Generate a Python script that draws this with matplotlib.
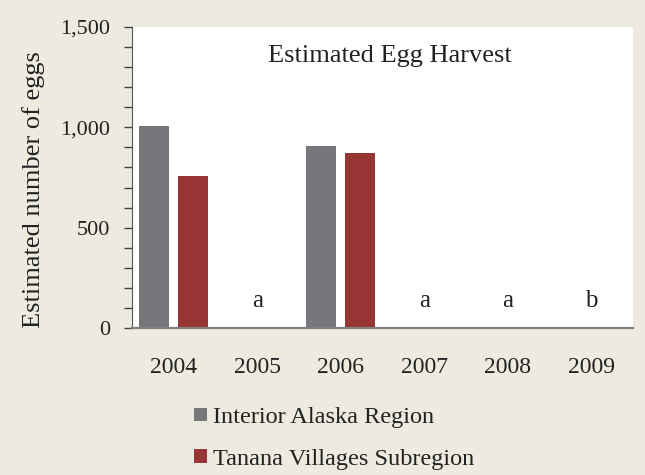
import matplotlib.pyplot as plt
import matplotlib.ticker as ticker
from matplotlib.patches import Patch
import numpy as np

plt.rcParams['font.family'] = ['Liberation Serif', 'DejaVu Serif']

# Data
years = ['2004', '2005', '2006', '2007', '2008', '2009']
interior = [1006, 0, 907, 0, 0, 0]
tanana = [757, 0, 873, 0, 0, 0]
notes = ['', 'a', '', 'a', 'a', 'b']

bg = '#EDEAE0'
gray = '#76777B'
red = '#973535'

fig = plt.figure(figsize=(6.45, 4.75), dpi=100, facecolor=bg)
ax = fig.add_axes([132 / 645, 147 / 475, 501 / 645, 301 / 475])
ax.set_facecolor('white')

x = np.arange(len(years))
w = 0.36
ax.bar(x - 0.234, interior, w, color=gray)
ax.bar(x + 0.234, tanana, w, color=red)

for xi, n in zip(x, notes):
    if n:
        ax.text(xi, 105, n, ha='center', va='baseline', fontsize=18, color='#222222')

ax.set_xlim(-0.5, len(years) - 0.5)
ax.set_ylim(0, 1500)
ax.set_xticks(x)
ax.set_xticklabels(years)
ax.yaxis.set_major_locator(ticker.MultipleLocator(500))
ax.yaxis.set_minor_locator(ticker.MultipleLocator(100))
ax.yaxis.set_major_formatter(ticker.FuncFormatter(lambda v, p: f'{int(v):,}'))

ax.tick_params(axis='y', which='both', direction='out', length=6, width=1,
               color='#444444', labelsize=16, labelcolor='#222222', pad=10)
ax.tick_params(axis='x', length=0, labelsize=17, labelcolor='#222222', pad=21)

for s in ['top', 'right']:
    ax.spines[s].set_visible(False)
ax.spines['left'].set_color('#555555')
ax.spines['bottom'].set_color('#808080')
ax.spines['bottom'].set_linewidth(1.6)

ax.set_ylabel('Estimated number of eggs', fontsize=19, color='#222222')
ax.yaxis.set_label_coords(-0.174, 0.46)

ax.text(0.515, 0.905, 'Estimated Egg Harvest', transform=ax.transAxes,
        ha='center', va='center', fontsize=19, color='#222222')

handles = [Patch(facecolor=gray, label='Interior Alaska Region'),
           Patch(facecolor=red, label='Tanana Villages Subregion')]
fig.legend(handles=handles, loc='upper left', bbox_to_anchor=(194 / 645, 1 - 407 / 475),
           frameon=False, fontsize=17.5, handlelength=0.53, handleheight=0.45,
           handletextpad=0.25, labelspacing=0.85, labelcolor='#222222',
           borderpad=0, borderaxespad=0)

fig.savefig('out.png', dpi=100, facecolor=bg)
